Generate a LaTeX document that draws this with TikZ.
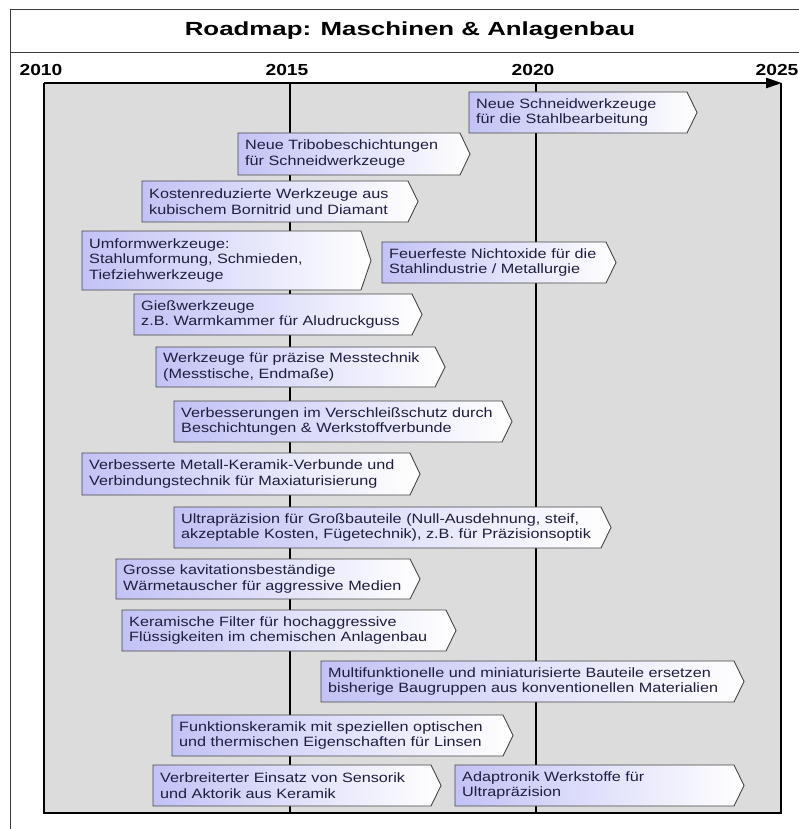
\documentclass[tikz,border=0pt]{standalone}
\usepackage{fontspec}
\newfontfamily\boxfont[FakeStretch=1.2]{Liberation Sans}
\newfontfamily\headfont[FakeStretch=1.36]{Liberation Sans}
\usetikzlibrary{arrows.meta}

\definecolor{lav}{RGB}{194,194,246}
\definecolor{panel}{RGB}{220,220,220}
\definecolor{ink}{RGB}{30,30,62}
\definecolor{edge}{RGB}{70,70,70}
\definecolor{framecol}{RGB}{60,60,60}

\tikzset{
  framerule/.style={draw=framecol, line width=1pt},
  yearlabel/.style={font=\boxfont\bfseries\fontsize{16}{18}\selectfont, text=black, inner sep=0pt},
  titlelabel/.style={font=\headfont\bfseries\fontsize{19}{22}\selectfont, text=black, inner sep=0pt},
  panelrule/.style={draw=black, line width=2.6pt},
  yearrule/.style={draw=black, line width=2pt},
  boxshape/.style={draw=edge, line width=0.9pt, left color=lav, right color=white, line join=miter},
  boxtext/.style={anchor=west, align=left, inner sep=0pt, text=ink,
    font=\boxfont\fontsize{13.5}{15.5}\selectfont},
}

% arrow-shaped milestone box: name, left, top, tip, bottom, text
\newcommand\rmbox[6]{%
  \path[boxshape] (#2,#3) -- ({#4-10},#3) -- (#4,{(#3+#5)/2}) -- ({#4-10},#5) -- (#2,#5) -- cycle;
  \node[boxtext] (#1) at ({#2+7},{(#3+#5)/2}) {#6};%
}

\begin{document}
\begin{tikzpicture}[x=1pt, y=-1pt]
\useasboundingbox (0,0) rectangle (799,829);
\fill[white] (0,0) rectangle (799,829);

% outer frame and title bar
\draw[framerule] (10,840) -- (10,10) -- (810,10);
\draw[framerule] (10,53) -- (810,53);
\node[titlelabel] (title) at (410,31) {Roadmap: Maschinen \& Anlagenbau};

% year scale
\node[yearlabel] (y2010) at (41,70) {2010};
\node[yearlabel] (y2015) at (287,70) {2015};
\node[yearlabel] (y2020) at (533,70) {2020};
\node[yearlabel] (y2025) at (777,70) {2025};

% time panel
\fill[panel] (44,83) rectangle (781,813);
\draw[yearrule] (290,83) -- (290,813);
\draw[yearrule] (536,83) -- (536,813);

% milestones
\rmbox{b1}{469}{92}{697}{133}{Neue Schneidwerkzeuge\\für die Stahlbearbeitung}
\rmbox{b2}{238}{133}{470}{175}{Neue Tribobeschichtungen\\für Schneidwerkzeuge}
\rmbox{b3}{142}{181}{418}{222}{Kostenreduzierte Werkzeuge aus\\kubischem Bornitrid und Diamant}
\rmbox{b4}{82}{231}{371}{290}{Umformwerkzeuge:\\Stahlumformung, Schmieden,\\Tiefziehwerkzeuge}
\rmbox{b5}{382}{242}{616}{283}{Feuerfeste Nichtoxide für die\\Stahlindustrie / Metallurgie}
\rmbox{b6}{134}{294}{422}{335}{Gießwerkzeuge\\z.B. Warmkammer für Aludruckguss}
\rmbox{b7}{156}{347}{445}{387}{Werkzeuge für präzise Messtechnik\\(Messtische, Endmaße)}
\rmbox{b8}{174}{401}{512}{442}{Verbesserungen im Verschleißschutz durch\\Beschichtungen \& Werkstoffverbunde}
\rmbox{b9}{82}{453}{420}{495}{Verbesserte Metall-Keramik-Verbunde und\\Verbindungstechnik für Maxiaturisierung}
\rmbox{b10}{174}{507}{611}{548}{Ultrapräzision für Großbauteile (Null-Ausdehnung, steif,\\akzeptable Kosten, Fügetechnik), z.B. für Präzisionsoptik}
\rmbox{b11}{116}{559}{420}{599}{Grosse kavitationsbeständige\\Wärmetauscher für aggressive Medien}
\rmbox{b12}{122}{610}{456}{651}{Keramische Filter für hochaggressive\\Flüssigkeiten im chemischen Anlagenbau}
\rmbox{b13}{321}{661}{744}{702}{Multifunktionelle und miniaturisierte Bauteile ersetzen\\bisherige Baugruppen aus konventionellen Materialien}
\rmbox{b14}{172}{715}{513}{756}{Funktionskeramik mit speziellen optischen\\und thermischen Eigenschaften für Linsen}
\rmbox{b15}{153}{765}{441}{806}{Verbreiterter Einsatz von Sensorik\\und Aktorik aus Keramik}
\rmbox{b16}{455}{765}{744}{806}{Adaptronik Werkstoffe für\\Ultrapräzision}

% panel border with time arrow on top
\draw[panelrule] (44,83) -- (44,813) -- (781,813) -- (781,83);
\draw[panelrule, -{Triangle[length=16pt,width=10pt]}] (44,83) -- (782,83);
\end{tikzpicture}
\end{document}
